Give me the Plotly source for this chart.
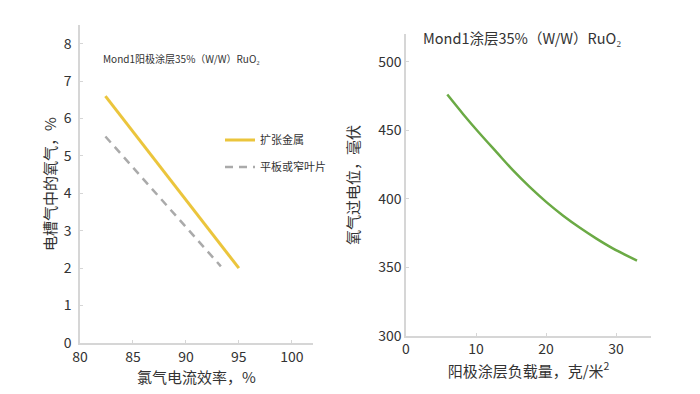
import plotly.graph_objects as go

# Left chart data
eff_expanded = [82.4, 95.0]
o2_expanded = [6.6, 2.0]
eff_flat = [82.4, 93.3]
o2_flat = [5.52, 2.05]
left_xticks = [80, 85, 90, 95, 100]
left_yticks = [0, 1, 2, 3, 4, 5, 6, 7, 8]

# Right chart data
loading = [5.9, 8.2, 10.6, 13.0, 15.3, 17.7, 20.1, 22.5, 24.9, 27.2, 29.6, 33.0]
overpot = [476, 461.5, 447.2, 433.6, 420.6, 408.4, 397.3, 387.4, 378.6, 370.9, 363.6, 354.8]
right_xticks = [0, 10, 20, 30]
right_yticks = [300, 350, 400, 450, 500]

W, H = 700, 394
FONT = "Noto Sans CJK SC"
TXT = "#333333"
AX = "#d6d6d6"

fig = go.Figure()
fig.add_trace(go.Scatter(x=eff_expanded, y=o2_expanded, mode="lines", name="扩张金属",
                         line=dict(color="#EBC53C", width=3), xaxis="x", yaxis="y",
                         legend="legend"))
fig.add_trace(go.Scatter(x=eff_flat, y=o2_flat, mode="lines", name="平板或窄叶片",
                         line=dict(color="#AAAAAA", width=2.5, dash="8px,6px"), xaxis="x", yaxis="y",
                         legend="legend2"))
fig.add_trace(go.Scatter(x=loading, y=overpot, mode="lines", name="green", showlegend=False,
                         line=dict(color="#6BAA45", width=2.5, shape="spline", smoothing=0.8),
                         xaxis="x2", yaxis="y2"))

def px_x(p):
    return p / W

def px_y(p):
    return (H - p) / H

axis_common = dict(showgrid=False, zeroline=False, showline=True, linecolor=AX, linewidth=1.5,
                   ticks="inside", ticklen=3, tickcolor=AX, automargin=False,
                   tickfont=dict(family=FONT, size=14, color=TXT))

fig.update_layout(
    width=W, height=H,
    margin=dict(l=0, r=0, t=0, b=0, autoexpand=False),
    paper_bgcolor="white", plot_bgcolor="white",
    font=dict(family=FONT, color=TXT),
    xaxis=dict(domain=[px_x(80), px_x(313)], range=[80, 102], tickvals=left_xticks,
               title=dict(text="氯气电流效率，%", font=dict(size=15, family=FONT, color=TXT), standoff=4),
               anchor="y", **axis_common),
    yaxis=dict(domain=[px_y(343), px_y(25)], range=[0, 8.5], tickvals=left_yticks,
               ticklabelstandoff=4,
               title=dict(text="电槽气中的氧气，%", font=dict(size=15, family=FONT, color=TXT), standoff=3),
               anchor="x", **axis_common),
    xaxis2=dict(domain=[px_x(406), px_x(651)], range=[0, 35], tickvals=right_xticks,
                title=dict(text="阳极涂层负载量，克/米<sup>2</sup>", font=dict(size=15, family=FONT, color=TXT), standoff=4),
                anchor="y2", **axis_common),
    yaxis2=dict(domain=[px_y(335.7), px_y(34.3)], range=[300, 520], tickvals=right_yticks,
                title=dict(text="氧气过电位，毫伏", font=dict(size=15, family=FONT, color=TXT), standoff=15),
                anchor="x2", **axis_common),
    legend=dict(x=px_x(220), y=px_y(140), xanchor="left", yanchor="middle",
                font=dict(size=11, family=FONT, color=TXT), bgcolor="rgba(0,0,0,0)"),
    legend2=dict(x=px_x(220), y=px_y(167), xanchor="left", yanchor="middle",
                 font=dict(size=11, family=FONT, color=TXT), bgcolor="rgba(0,0,0,0)"),
    annotations=[
        dict(text="Mond1阳极涂层35%（W/W）RuO₂", x=px_x(101), y=px_y(59), xref="paper", yref="paper",
             xanchor="left", yanchor="middle", showarrow=False,
             font=dict(size=10, family=FONT, color=TXT)),
        dict(text="Mond1涂层35%（W/W）RuO₂", x=px_x(421), y=px_y(38), xref="paper", yref="paper",
             xanchor="left", yanchor="middle", showarrow=False,
             font=dict(size=14.5, family=FONT, color=TXT)),
    ],
)

fig.write_html("out.html", config={"displayModeBar": False},
               post_script="document.body.style.margin='0';")
